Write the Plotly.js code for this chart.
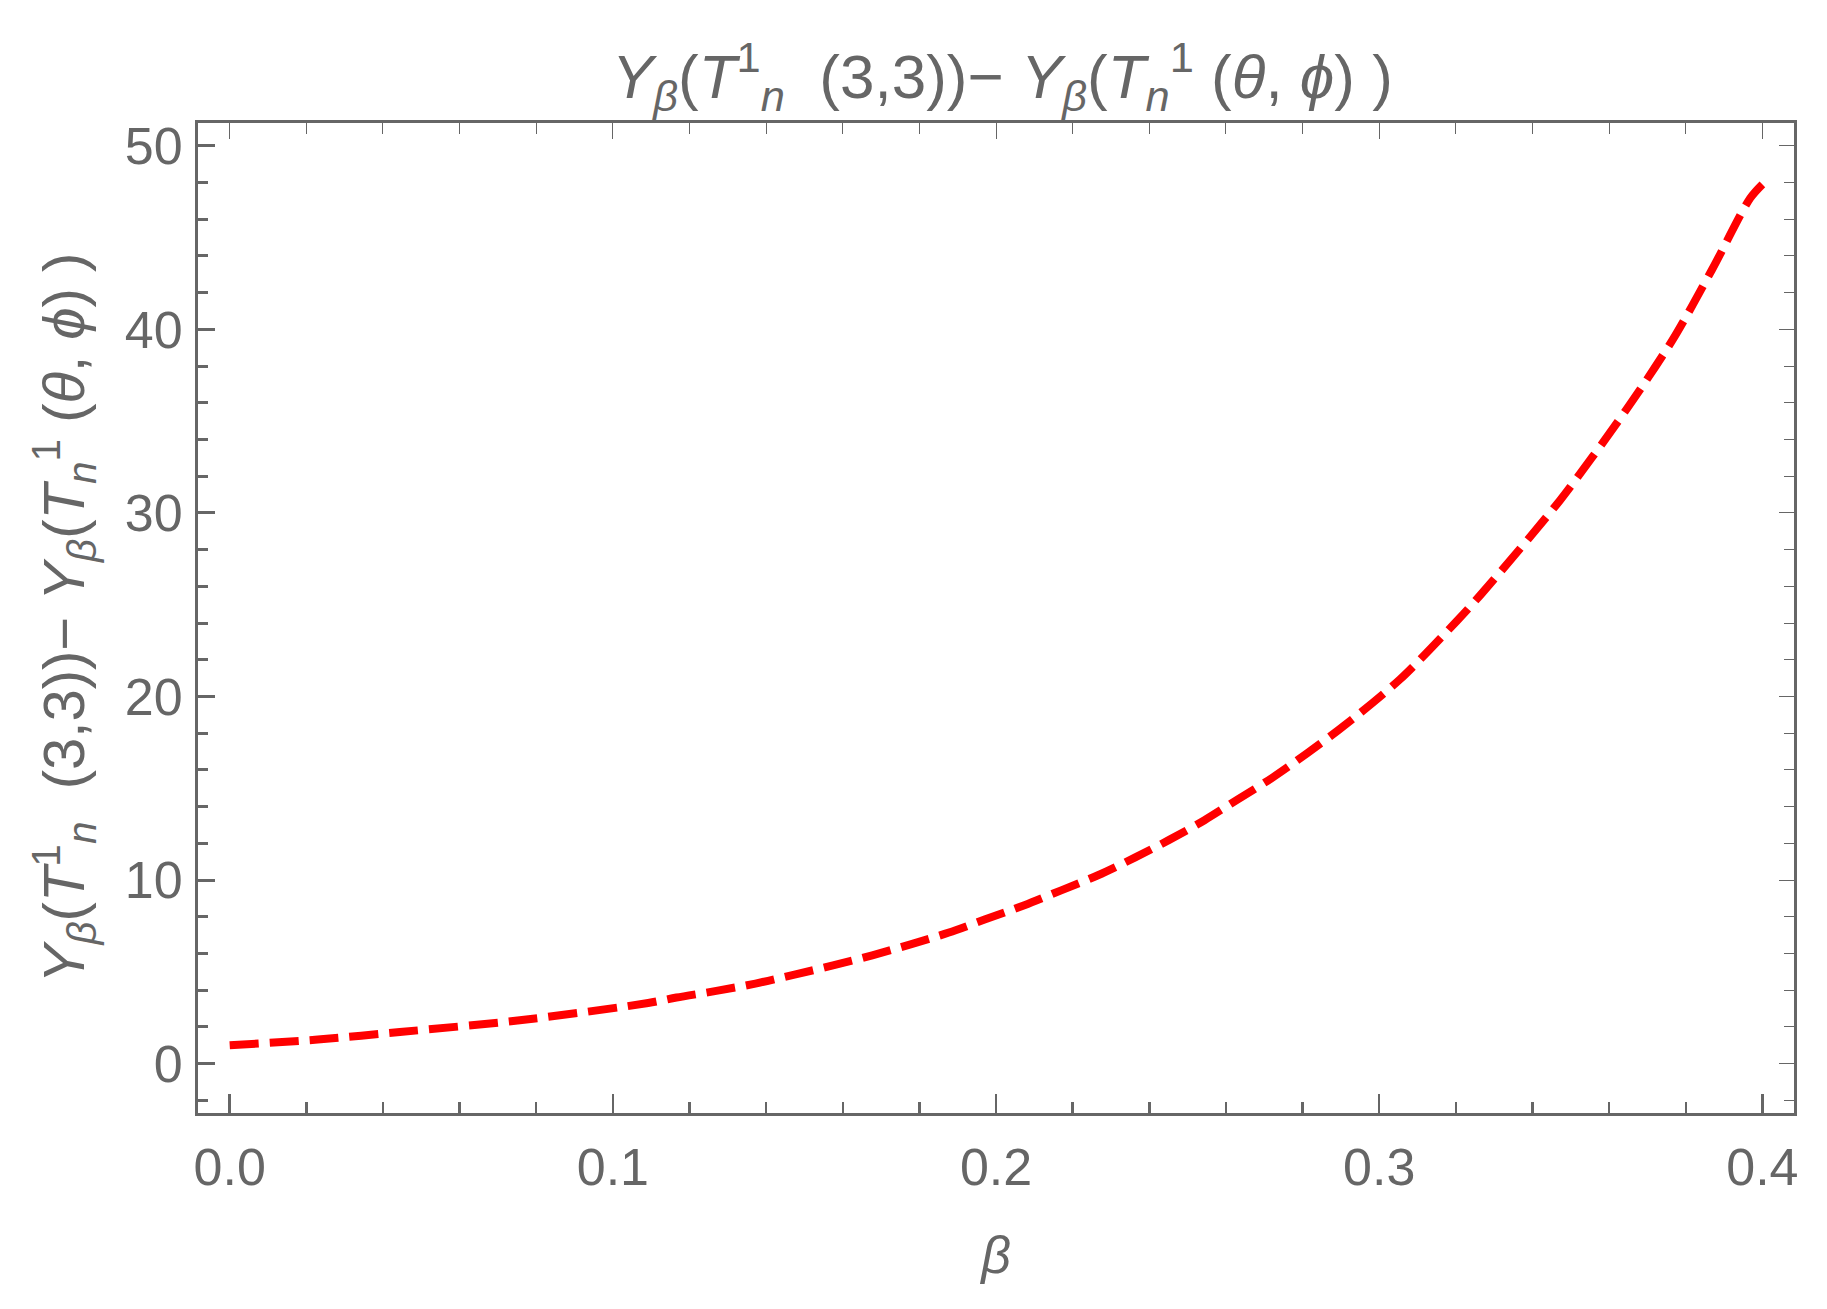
<!DOCTYPE html>
<html>
<head>
<meta charset="utf-8">
<script src="https://cdn.plot.ly/plotly-3.0.1.min.js"></script>
<style>html,body{margin:0;padding:0;background:#fff;}#chart{width:1827px;height:1309px;}</style>
</head>
<body>
<div id="chart"></div>
<script>
// Values
const beta = [0, 0.023, 0.0444, 0.0757, 0.1092, 0.1166, 0.1270, 0.1372, 0.1474, 0.1577, 0.1677, 0.1777, 0.1877, 0.1972, 0.2074, 0.2170, 0.2266, 0.2362, 0.2453, 0.2544, 0.2631, 0.2723, 0.2893, 0.3054, 0.3202, 0.3263, 0.3470, 0.3650, 0.3768, 0.3868, 0.3968, 0.4];
const diffY = [1.0, 1.31, 1.72, 2.36, 3.30, 3.60, 3.96, 4.36, 4.85, 5.36, 5.90, 6.50, 7.14, 7.86, 8.63, 9.44, 10.26, 11.22, 12.2, 13.26, 14.40, 15.60, 18.16, 20.93, 24.1, 25.5, 30.64, 35.78, 39.51, 43.23, 47.14, 47.9];
const xMajorTicks = [0, 0.1, 0.2, 0.3, 0.4];
const xTickLabels = ['0.0', '0.1', '0.2', '0.3', '0.4'];
const yMajorTicks = [0, 10, 20, 30, 40, 50];
const yTickLabels = ['0', '10', '20', '30', '40', '50'];

const gray = 'rgb(102,102,102)';
const FONT = '"Liberation Sans", Arial, sans-serif';
const xRange = [-0.00827, 0.40825];
const yRange = [-2.69, 51.24];

const labelText = '<i>Y</i><sub><i>β</i></sub>(<i>T</i><sup>1</sup><sub><i>n</i></sub>\u00A0\u00A0(3,3))− <i>Y</i><sub><i>β</i></sub>(<i>T</i><sub><i>n</i></sub><sup>1</sup>\u00A0(<i>θ</i>, <i>ϕ</i>)\u00A0)';

const traces = [
  {
    x: beta, y: diffY, type: 'scatter', mode: 'lines',
    line: {color: 'rgb(255,0,0)', width: 8, dash: '29px,11px', shape: 'spline', smoothing: 0.8},
    hoverinfo: 'skip', showlegend: false
  },
  {
    x: beta, y: diffY, type: 'scatter', mode: 'lines', xaxis: 'x2', yaxis: 'y2',
    line: {color: 'rgba(0,0,0,0)', width: 0},
    hoverinfo: 'skip', showlegend: false
  }
];

const layout = {
  width: 1827, height: 1309,
  paper_bgcolor: '#fff', plot_bgcolor: '#fff',
  margin: {l: 198, r: 33, t: 123, b: 196},
  font: {family: FONT, color: gray},
  showlegend: false,
  title: {
    text: labelText,
    font: {family: FONT, size: 62, color: gray},
    x: 0.504, xref: 'paper', xanchor: 'center',
    y: 1 - 76 / 1309, yref: 'container', yanchor: 'middle'
  },
  xaxis: {
    range: xRange, showgrid: false, zeroline: false,
    showline: true, linecolor: gray, linewidth: 3,
    ticks: 'inside', tickvals: xMajorTicks, ticktext: xTickLabels,
    ticklen: 19, tickwidth: 2.5, tickcolor: gray,
    minor: {ticks: 'inside', dtick: 0.02, tick0: 0, ticklen: 11, tickwidth: 2.5, tickcolor: gray, showgrid: false},
    tickfont: {family: FONT, size: 52, color: gray},
    ticklabelstandoff: 7,
    title: {text: '<i>β</i>', font: {family: FONT, size: 52, color: gray}, standoff: 42},
    automargin: false
  },
  yaxis: {
    range: yRange, showgrid: false, zeroline: false,
    showline: true, linecolor: gray, linewidth: 3,
    ticks: 'inside', tickvals: yMajorTicks, ticktext: yTickLabels,
    ticklen: 17, tickwidth: 3, tickcolor: gray,
    minor: {ticks: 'inside', dtick: 2, tick0: 0, ticklen: 10, tickwidth: 3, tickcolor: gray, showgrid: false},
    tickfont: {family: FONT, size: 52, color: gray},
    ticklabelstandoff: 2,
    title: {text: labelText, font: {family: FONT, size: 58, color: gray}, standoff: 22},
    automargin: false
  },
  xaxis2: {
    overlaying: 'x', side: 'top', anchor: 'y2', range: xRange,
    showgrid: false, zeroline: false, showline: true, linecolor: gray, linewidth: 3,
    ticks: 'inside', tickvals: xMajorTicks, ticklen: 16, tickwidth: 1, tickcolor: gray,
    minor: {ticks: 'inside', dtick: 0.02, tick0: 0, ticklen: 11, tickwidth: 1, tickcolor: gray, showgrid: false},
    showticklabels: false
  },
  yaxis2: {
    overlaying: 'y', side: 'right', anchor: 'x2', range: yRange,
    showgrid: false, zeroline: false, showline: true, linecolor: gray, linewidth: 3,
    ticks: 'inside', tickvals: yMajorTicks, ticklen: 15, tickwidth: 1, tickcolor: gray,
    minor: {ticks: 'inside', dtick: 2, tick0: 0, ticklen: 10, tickwidth: 1, tickcolor: gray, showgrid: false},
    showticklabels: false
  }
};

Plotly.newPlot('chart', traces, layout, {staticPlot: true, displayModeBar: false});
</script>
</body>
</html>
